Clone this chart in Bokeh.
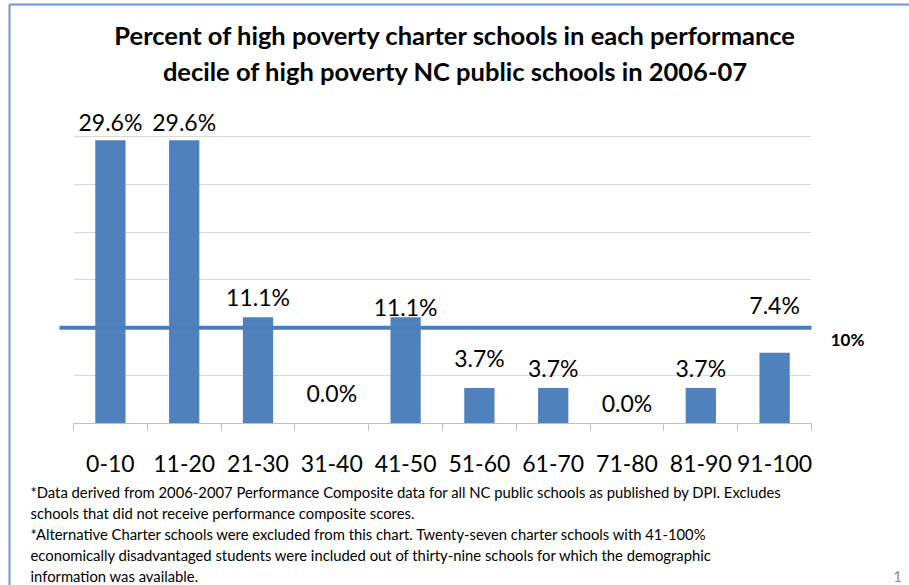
from bokeh.plotting import figure
from bokeh.models import Range1d, FixedTicker, ColumnDataSource
from bokeh.core.properties import value
from bokeh.embed import file_html
from bokeh.resources import INLINE

# ---------------- data ----------------
categories = ["0-10", "11-20", "21-30", "31-40", "41-50",
              "51-60", "61-70", "71-80", "81-90", "91-100"]
values = [29.6, 29.6, 11.1, 0.0, 11.1, 3.7, 3.7, 0.0, 3.7, 7.4]
value_labels = ["29.6%", "29.6%", "11.1%", "0.0%", "11.1%",
                "3.7%", "3.7%", "0.0%", "3.7%", "7.4%"]
# vertical placement (in % units) of each data label as drawn in the original
label_heights = [31.5, 31.5, 13.2, 3.2, 12.2, 6.8, 5.85, 2.1, 5.85, 12.4]
reference_level = 10
reference_label = "10%"
y_gridlines = [5, 10, 15, 20, 25, 30, 35]
title_lines = ["Percent of high poverty charter schools in each performance",
               "decile of high poverty NC public schools in 2006-07"]
footnotes = [
    "*Data derived from 2006-2007 Performance Composite data for all NC public schools as published by DPI. Excludes",
    "schools that did not receive performance composite scores.",
    "*Alternative Charter schools were excluded from this chart.  Twenty-seven charter schools with 41-100%",
    "economically disadvantaged students  were included out of thirty-nine schools for which the demographic",
    "information was available.",
]
page_number = "1"

# ---------------- layout ----------------
W, H = 909, 585
L, R, T, B = 73, 811, 88, 423
X0, X1 = -0.5, len(categories) - 0.5
Y0, Y1 = 0, 35

def xd(px):
    return X0 + (px - L) * (X1 - X0) / (R - L)

def yd(py):
    return Y0 + (B - py) * (Y1 - Y0) / (B - T)

FONT = "Lato"
BAR = "#4F81BD"

p = figure(width=W, height=H, output_backend="svg", toolbar_location=None,
           x_range=Range1d(X0, X1), y_range=Range1d(Y0, Y1),
           min_border_left=L, min_border_right=W - R,
           min_border_top=T, min_border_bottom=H - B)
p.outline_line_color = None
p.background_fill_color = "white"
p.border_fill_color = "white"

p.yaxis.visible = False
p.xgrid.visible = False
p.ygrid.ticker = FixedTicker(ticks=y_gridlines)
p.ygrid.grid_line_color = "#D9D9D9"
p.ygrid.grid_line_width = 1

xs = list(range(len(categories)))
ax = p.xaxis[0]
ax.ticker = FixedTicker(ticks=xs, minor_ticks=[i - 0.5 for i in range(len(categories) + 1)])
ax.major_label_overrides = {i: c for i, c in enumerate(categories)}
ax.axis_line_color = "#BFBFBF"
ax.major_tick_in = 0
ax.major_tick_out = 0
ax.minor_tick_in = 0
ax.minor_tick_out = 7
ax.minor_tick_line_color = "#BFBFBF"
ax.major_label_standoff = 24
ax.major_label_text_font = FONT
ax.major_label_text_font_size = "23px"
ax.major_label_text_color = "black"

src = ColumnDataSource(dict(x=xs, top=values, lab=value_labels, ly=label_heights))
p.vbar(x="x", top="top", width=0.41, source=src, fill_color=BAR, line_color=None)
p.text(x="x", y="ly", text="lab", source=src, text_align="center",
       text_baseline="middle", text_font=value(FONT), text_font_size="23px",
       text_color="black")

# reference line at 10%
p.segment(x0=[xd(59)], x1=[X1], y0=[reference_level], y1=[reference_level],
          line_color="#4A7EBB", line_width=4, level="overlay")


def put_text(x, y, text, size, align="center", bold=False, color="black"):
    p.text(x=x, y=y, text=text, text_align=align, text_baseline="middle",
           text_font=value(FONT), text_font_size=size,
           text_font_style=value("bold" if bold else "normal"),
           text_color=color, level="overlay")


put_text([xd(847)], [yd(339)], [reference_label], "17px", bold=True)

# title
put_text([xd(455)] * len(title_lines), [yd(34 + 36 * i) for i in range(len(title_lines))],
         title_lines, "25.5px", bold=True)

# footnotes
put_text([xd(30)] * len(footnotes), [yd(491 + 21 * i) for i in range(len(footnotes))],
         footnotes, "14.8px", align="left")

put_text([xd(897)], [yd(576)], [page_number], "15px", color="#8C8C8C")

# slide frame lines
p.segment(x0=[xd(9), xd(9)], x1=[xd(909), xd(9)], y0=[yd(4), yd(4)], y1=[yd(4), yd(585)],
          line_color="#6F96D0", line_width=2, level="overlay")

open("out.html", "w").write(file_html(p, INLINE))
